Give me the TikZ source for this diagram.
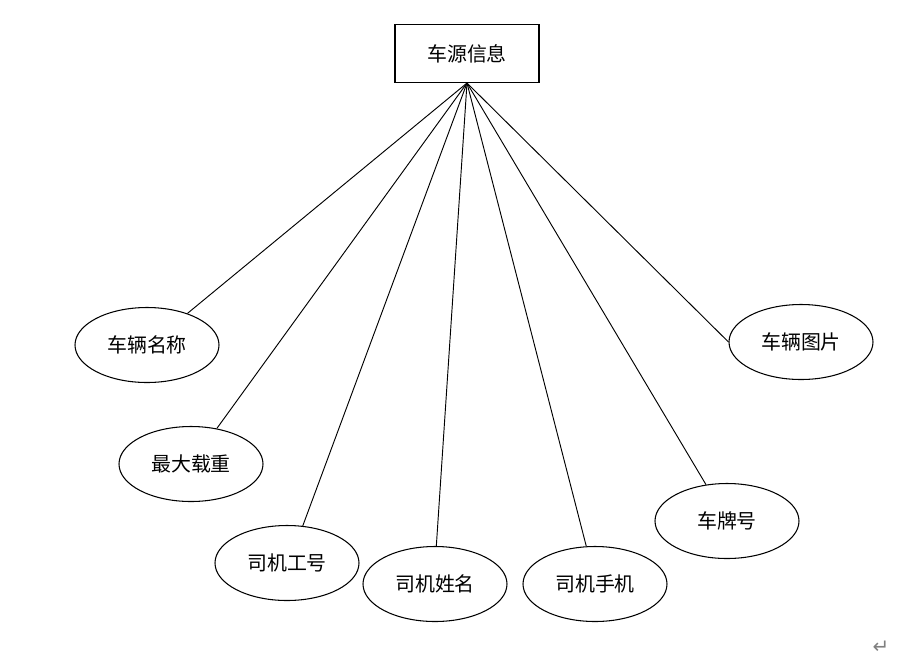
\documentclass[tikz,border=0pt]{standalone}
\usepackage{fontspec}
\newfontfamily\cjk{Noto Sans CJK SC}
\newfontfamily\dvs{DejaVu Sans}
\usetikzlibrary{shapes.geometric}
\tikzset{
  attr/.style={ellipse, draw, line width=0.9pt, inner sep=0pt,
    minimum width=4.32cm, minimum height=2.25cm, font=\cjk\fontsize{17}{20}\selectfont},
  entity/.style={rectangle, draw, line width=0.9pt, inner sep=0pt,
    minimum width=4.32cm, minimum height=1.74cm, font=\cjk\fontsize{17}{20}\selectfont},
  link/.style={line width=0.8pt}
}
\begin{document}
\begin{tikzpicture}[x=0.03cm,y=-0.03cm]
\useasboundingbox (0,0) rectangle (917,659);
\node[entity] (top) at (467,53.5) {车源信息};
\node[attr] (a1) at (147,345) {车辆名称};
\node[attr] (a2) at (191,464) {最大载重};
\node[attr] (a3) at (287,563) {司机工号};
\node[attr] (a4) at (435,584) {司机姓名};
\node[attr] (a5) at (595,584) {司机手机};
\node[attr] (a6) at (727,521) {车牌号};
\node[attr] (a7) at (801,342) {车辆图片};
\draw[link] (top.south) -- (a1.38.7);
\draw[link] (top.south) -- (a2.54.9);
\draw[link] (top.south) -- (a3.67.9);
\draw[link] (top.south) -- (a4.88.5);
\draw[link] (top.south) -- (a5.103.7);
\draw[link] (top.south) -- (a6.120.7);
\draw[link] (top.south) -- (a7.180);
\node[font=\dvs\fontsize{17}{19}\selectfont, text=gray, inner sep=0pt] (ret) at (881,647) {↵};
\end{tikzpicture}
\end{document}
